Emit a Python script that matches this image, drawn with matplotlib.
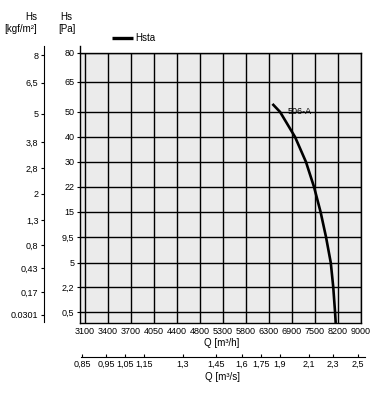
import numpy as np
import matplotlib
matplotlib.use('Agg')
import matplotlib.pyplot as plt

plt.rcParams['font.family'] = ['Liberation Sans Narrow', 'Liberation Sans', 'DejaVu Sans']

# ==== Chart data
q_ticks = [3100, 3400, 3700, 4050, 4400, 4800, 5300, 5800, 6300, 6900, 7500, 8200, 9000]
pa_ticks = [0.5, 2.2, 5, 9.5, 15, 22, 30, 40, 50, 65, 80]
pa_labels = ['0,5', '2,2', '5', '9,5', '15', '22', '30', '40', '50', '65', '80']
kgf_ticks = [0.0301, 0.17, 0.43, 0.8, 1.3, 2, 2.8, 3.8, 5, 6.5, 8]
kgf_labels = ['0.0301', '0,17', '0,43', '0,8', '1,3', '2', '2,8', '3,8', '5', '6,5', '8']
ms_ticks = [0.85, 0.95, 1.05, 1.15, 1.3, 1.45, 1.6, 1.75, 1.9, 2.1, 2.3, 2.5]
ms_labels = ['0,85', '0,95', '1,05', '1,15', '1,3', '1,45', '1,6', '1,75', '1,9', '2,1', '2,3', '2,5']

# Fan curve 506-A (Q in m3/h, Hs in Pa)
curve_q = [6390, 6590, 6980, 7265, 7475, 7670, 7835, 7980, 8055, 8110, 8130]
curve_h = [54, 50, 40, 30, 22, 15, 9.5, 5, 2.2, 0.5, 0]

# ==== Layout (pixel rows / columns of the printed nomogram scales)
W, H = 374, 393
q_px = 85 + 23 * np.arange(len(q_ticks))
pa_px = [323, 312, 287, 262.7, 237, 212, 187, 162, 137, 112, 81.7, 53]   # first one is 0 Pa
kgf_px = [315, 292.5, 268, 245.5, 220, 194, 168, 142, 114, 82.7, 55.5]
ms_px = [82, 106, 125, 144, 183, 216, 242, 261, 280, 309, 333, 358]


def px_scale(vals, pos):
    # piecewise linear scale through the printed tick positions
    v = np.asarray(vals, float)
    p = np.asarray(pos, float)
    i = np.argsort(v)
    v, p = v[i], p[i]
    v = np.r_[v[0] - 1e4 * (v[1] - v[0]), v, v[-1] + 1e4 * (v[-1] - v[-2])]
    p = np.r_[p[0] - 1e4 * (p[1] - p[0]), p, p[-1] + 1e4 * (p[-1] - p[-2])]
    return (lambda x: np.interp(x, v, p)), (lambda y: np.interp(y, p, v))


fig = plt.figure(figsize=(W / 100, H / 100), dpi=100)

# ==== Main chart
qf, qi = px_scale(q_ticks, q_px)
pf, pi = px_scale([0] + pa_ticks, [-y for y in pa_px])

ax = fig.add_axes([80 / W, 1 - 323 / H, (361 - 80) / W, (323 - 53) / H])
ax.set_facecolor('#ebebeb')
ax.set_xscale('function', functions=(qf, qi))
ax.set_yscale('function', functions=(pf, pi))
ax.set_xlim(qi(80), qi(361))
ax.set_ylim(0, 80)
ax.set_xticks(q_ticks)
ax.set_xticklabels([str(q) for q in q_ticks])
ax.set_yticks(pa_ticks)
ax.set_yticklabels(pa_labels)
ax.minorticks_off()
ax.grid(True, color='black', lw=1.0)
ax.set_axisbelow(True)
for s in ax.spines.values():
    s.set_linewidth(1.0)
ax.spines['left'].set_bounds(0, pi(-46))
ax.tick_params(axis='x', length=0, pad=3, labelsize=6.5)
ax.tick_params(axis='y', length=2, width=0.8, pad=2, labelsize=6.5)

line, = ax.plot(curve_q, curve_h, color='black', lw=1.9, label='Hsta', solid_capstyle='butt')
ax.text(7110, 50, '506-A', ha='center', va='center', fontsize=6.5)

leg = ax.legend(handles=[line], loc='center left', frameon=False, fontsize=7,
                bbox_to_anchor=(112 / W, 1 - 38 / H), bbox_transform=fig.transFigure,
                handlelength=2.2, handletextpad=0.2, borderpad=0, borderaxespad=0)
leg.get_lines()[0].set_linewidth(2.4)

# ==== kgf/m2 scale
kf, ki = px_scale(kgf_ticks, [-y for y in kgf_px])
axk = fig.add_axes([44 / W, 1 - 322 / H, 0.0001, (322 - 46) / H])
axk.patch.set_visible(False)
axk.set_yscale('function', functions=(kf, ki))
axk.set_ylim(ki(-322), ki(-46))
axk.set_yticks(kgf_ticks)
axk.set_yticklabels(kgf_labels)
axk.minorticks_off()
axk.set_xticks([])
for k in ['top', 'right', 'bottom']:
    axk.spines[k].set_visible(False)
axk.tick_params(axis='y', length=2, width=0.8, pad=2, labelsize=6.5)

# ==== m3/s scale
mf, mi = px_scale(ms_ticks, ms_px)
axm = fig.add_axes([80.7 / W, 1 - 357 / H, (365 - 80.7) / W, 0.0001])
axm.patch.set_visible(False)
axm.set_xscale('function', functions=(mf, mi))
axm.set_xlim(mi(80.7), mi(365))
axm.set_xticks(ms_ticks)
axm.set_xticklabels(ms_labels)
axm.minorticks_off()
axm.set_yticks([])
for k in ['top', 'right', 'left']:
    axm.spines[k].set_visible(False)
axm.tick_params(axis='x', direction='in', length=2.5, width=0.8, pad=2, labelsize=6.5)

# ==== Axis titles
fig.text(37 / W, 1 - 17 / H, 'Hs', ha='right', va='center', fontsize=7)
fig.text(37 / W, 1 - 29 / H, '[kgf/m²]', ha='right', va='center', fontsize=7)
fig.text(72 / W, 1 - 17 / H, 'Hs', ha='right', va='center', fontsize=7)
fig.text(76 / W, 1 - 29 / H, '[Pa]', ha='right', va='center', fontsize=7)
fig.text(222 / W, 1 - 343 / H, 'Q [m³/h]', ha='center', va='center', fontsize=7)
fig.text(222 / W, 1 - 377 / H, 'Q [m³/s]', ha='center', va='center', fontsize=7)

fig.savefig('out.png', dpi=100)
